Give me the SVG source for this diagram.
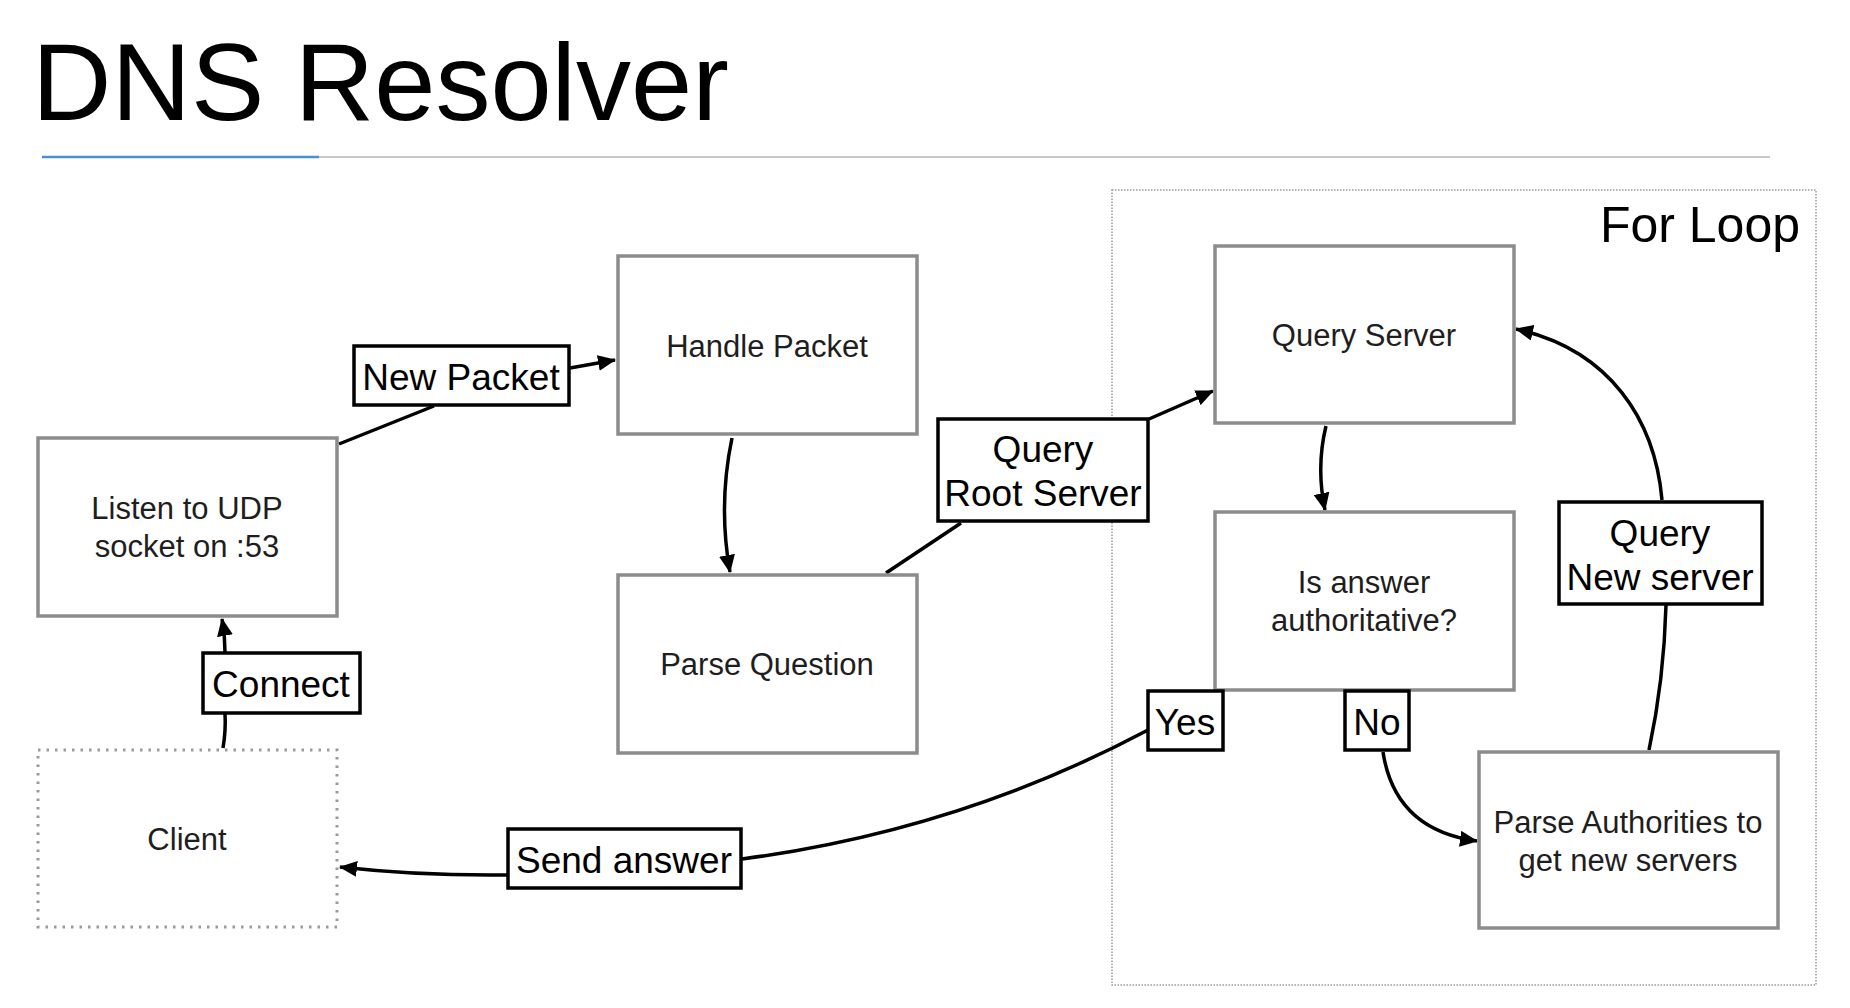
<svg xmlns="http://www.w3.org/2000/svg" width="1850" height="1008" viewBox="0 0 1850 1008">
<defs>
<marker id="arr" markerUnits="userSpaceOnUse" markerWidth="20" markerHeight="16" refX="17" refY="8" orient="auto">
<path d="M0,0 L18,8 L0,16 z" fill="#000"/>
</marker>
<style>
.node{fill:#fff;stroke:#8c8c8c;stroke-width:3.5}
.client{fill:#fff;stroke:#9a9a9a;stroke-width:3;stroke-dasharray:2.5 6}
.lbl{fill:#fff;stroke:#000;stroke-width:3.5}
.nt{font-family:"Liberation Sans",Arial,sans-serif;font-size:31px;fill:#1e1e1e;text-anchor:middle}
.lt{font-family:"Liberation Sans",Arial,sans-serif;font-size:37px;fill:#000;text-anchor:middle}
.edge{fill:none;stroke:#000;stroke-width:3.5}
</style>
</defs>
<rect width="1850" height="1008" fill="#fff"/>
<text x="32" y="120" font-family="Liberation Sans, Arial, sans-serif" font-size="110" fill="#000">DNS Resolver</text>
<line x1="319" y1="157" x2="1770" y2="157" stroke="#c8c8c8" stroke-width="2"/>
<line x1="42" y1="157" x2="319" y2="157" stroke="#4a8fd6" stroke-width="2.5"/>

<g id="forloop">
<rect x="1112" y="190" width="704" height="795" fill="none" stroke="#9a9a9a" stroke-width="1.5" stroke-dasharray="1.5 1.5"/>
<text x="1800" y="242" font-family="Liberation Sans, Arial, sans-serif" font-size="50" fill="#000" text-anchor="end">For Loop</text>
</g>

<g id="connectors">
<path class="edge" d="M339,444 L434,406"/>
<path class="edge" d="M570,368 L615,360" marker-end="url(#arr)"/>
<path class="edge" d="M732,438 Q718,505 730,572" marker-end="url(#arr)"/>
<path class="edge" d="M886,573 L961,523"/>
<path class="edge" d="M1149,419 L1213,391" marker-end="url(#arr)"/>
<path class="edge" d="M1326,426 Q1316,467 1325,510" marker-end="url(#arr)"/>
<path class="edge" d="M1148,730 Q960,830 742,859"/>
<path class="edge" d="M508,875 Q420,876 340,867" marker-end="url(#arr)"/>
<path class="edge" d="M1383,752 Q1395,830 1477,841" marker-end="url(#arr)"/>
<path class="edge" d="M1649,750 Q1664,680 1666,605"/>
<path class="edge" d="M1662,500 C1655,420 1610,350 1516,329" marker-end="url(#arr)"/>
<path class="edge" d="M223,748 Q226,730 225,714"/>
<path class="edge" d="M225,652 Q225,636 222,619" marker-end="url(#arr)"/>
</g>

<g id="listen">
<rect class="node" x="38" y="438" width="299" height="178"/>
<text class="nt" x="187" y="519">Listen to UDP</text>
<text class="nt" x="187" y="557">socket on :53</text>
</g>
<g id="handle">
<rect class="node" x="618" y="256" width="299" height="178"/>
<text class="nt" x="767" y="357">Handle Packet</text>
</g>
<g id="parseq">
<rect class="node" x="618" y="575" width="299" height="178"/>
<text class="nt" x="767" y="675">Parse Question</text>
</g>
<g id="queryserver">
<rect class="node" x="1215" y="246" width="299" height="177"/>
<text class="nt" x="1364" y="346">Query Server</text>
</g>
<g id="isauth">
<rect class="node" x="1215" y="512" width="299" height="178"/>
<text class="nt" x="1364" y="593">Is answer</text>
<text class="nt" x="1364" y="631">authoritative?</text>
</g>
<g id="parseauth">
<rect class="node" x="1479" y="752" width="299" height="176"/>
<text class="nt" x="1628" y="833">Parse Authorities to</text>
<text class="nt" x="1628" y="871">get new servers</text>
</g>
<g id="client">
<rect class="client" x="38" y="750" width="299" height="177"/>
<text class="nt" x="187" y="850">Client</text>
</g>

<g id="lbl-newpacket">
<rect class="lbl" x="354" y="346" width="215" height="59"/>
<text class="lt" x="461" y="390">New Packet</text>
</g>
<g id="lbl-queryroot">
<rect class="lbl" x="938" y="419" width="210" height="102"/>
<text class="lt" x="1043" y="462">Query</text>
<text class="lt" x="1043" y="506">Root Server</text>
</g>
<g id="lbl-connect">
<rect class="lbl" x="203" y="653" width="157" height="60"/>
<text class="lt" x="281" y="697">Connect</text>
</g>
<g id="lbl-querynew">
<rect class="lbl" x="1559" y="502" width="203" height="102"/>
<text class="lt" x="1660" y="546">Query</text>
<text class="lt" x="1660" y="590">New server</text>
</g>
<g id="lbl-yes">
<rect class="lbl" x="1148" y="691" width="75" height="59"/>
<text class="lt" x="1185" y="735">Yes</text>
</g>
<g id="lbl-no">
<rect class="lbl" x="1345" y="691" width="64" height="59"/>
<text class="lt" x="1377" y="735">No</text>
</g>
<g id="lbl-send">
<rect class="lbl" x="508" y="829" width="233" height="59"/>
<text class="lt" x="624" y="873">Send answer</text>
</g>
</svg>
